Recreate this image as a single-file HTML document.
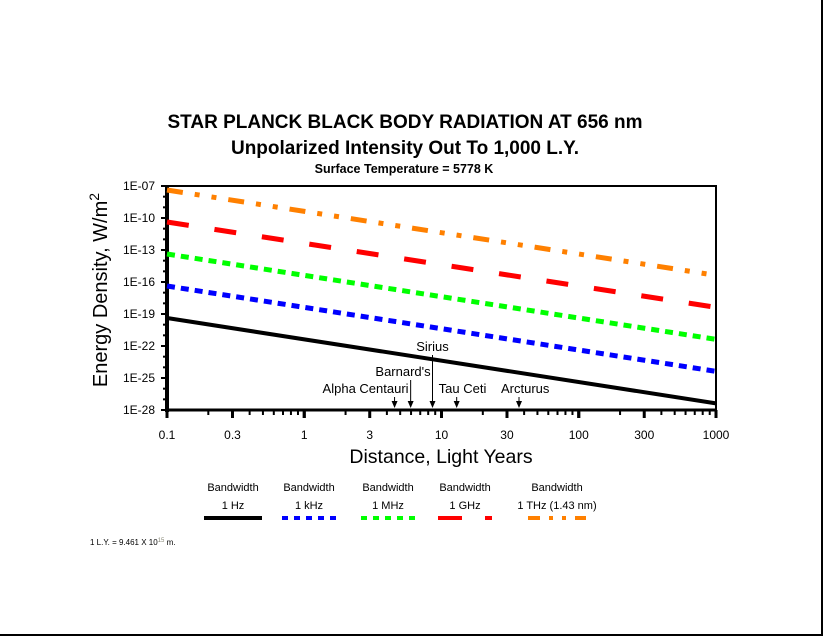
<!DOCTYPE html>
<html><head><meta charset="utf-8"><style>
body{margin:0;background:#fff;}
svg{display:block;font-family:"Liberation Sans",Arial,sans-serif;}
</style></head><body>
<svg id="c" width="825" height="637" xmlns="http://www.w3.org/2000/svg">
<line x1="822" y1="0" x2="822" y2="635" stroke="#000" stroke-width="2"/>
<line x1="0" y1="635" x2="823" y2="635" stroke="#000" stroke-width="2"/>
<text x="405" y="128" font-size="19" font-weight="bold" text-anchor="middle">STAR PLANCK BLACK BODY RADIATION AT 656 nm</text>
<text x="405" y="154" font-size="19" font-weight="bold" text-anchor="middle">Unpolarized Intensity Out To 1,000 L.Y.</text>
<text x="404" y="173" font-size="12.5" font-weight="bold" text-anchor="middle">Surface Temperature = 5778 K</text>
<text transform="translate(107,290) rotate(-90)" font-size="20" text-anchor="middle">Energy Density, W/m<tspan dy="-8" font-size="14">2</tspan></text>
<text x="441" y="463" font-size="19.5" text-anchor="middle">Distance, Light Years</text>
<g id="axes"></g><g id="series"></g><g id="stars"></g><g id="legend"></g>
<text x="90" y="545" font-size="8">1 L.Y. = 9.461 X 10<tspan dy="-3" font-size="6" fill="#887">15</tspan><tspan dy="3"> m.</tspan></text>
</svg>
<script>
const xTickVals=[0.1,0.3,1,3,10,30,100,300,1000];
const xTickLabels=["0.1","0.3","1","3","10","30","100","300","1000"];
const yTickExps=[-7,-10,-13,-16,-19,-22,-25,-28];
const yTickLabels=["1E-07","1E-10","1E-13","1E-16","1E-19","1E-22","1E-25","1E-28"];
const distances=[0.1,1000];
const seriesNames=["1 Hz","1 kHz","1 MHz","1 GHz","1 THz (1.43 nm)"];
const seriesAt01=[4.2e-20,4.2e-17,4.2e-14,4.2e-11,4.2e-8];
const seriesAt1000=[4.2e-28,4.2e-25,4.2e-22,4.2e-19,4.2e-16];
const starNames=["Alpha Centauri","Barnard's","Sirius","Tau Ceti","Arcturus"];
const starDist=[4.55,5.96,8.6,12.9,36.7];
const colors=["#000","#0000ff","#00ff00","#ff0000","#ff8000"];
const dashes=["none","8 6","8 6","22 26","16 12 5 12 5 12"];
const widths=[4,5,5,5,5];
const L=167,R=716,T=186,B=410;
const X=v=>L+(Math.log10(v)+1)/4*(R-L);
const Y=v=>T+(-7-Math.log10(v))/21*(B-T);
const NS="http://www.w3.org/2000/svg";
function mk(tag,attrs,parent,text){const e=document.createElementNS(NS,tag);for(const k in attrs)e.setAttribute(k,attrs[k]);if(text!==undefined)e.textContent=text;parent.appendChild(e);return e;}
const ax=document.getElementById('axes');
let r=mk('rect',{x:L,y:T,width:R-L,height:B-T,fill:'none',stroke:'#000','stroke-width':2},ax);


let l=mk('line',{x1:L,y1:T,x2:L,y2:B+2,stroke:'#000','stroke-width':4},ax);


l=mk('line',{x1:L,y1:B,x2:R,y2:B,stroke:'#000','stroke-width':3},ax);


for(let e=-28;e<=-7;e++){const y=Y(Math.pow(10,e));const major=(e+28)%3===0;
 l=mk('line',{x1:L-(major?6:4),y1:y,x2:L,y2:y,stroke:'#000','stroke-width':2},ax);
 
 }
yTickExps.forEach((e,i)=>{let t=mk('text',{x:L-12,y:Y(Math.pow(10,e))+4,'font-size':12,'text-anchor':'end'},ax,yTickLabels[i]);
 
 });
for(let d=-1;d<3;d++)for(let m=1;m<=10;m++){const v=m*Math.pow(10,d);const major=(m===1||m===3||m===10);
 l=mk('line',{x1:X(v),y1:B,x2:X(v),y2:B+(major?8:5),stroke:'#000','stroke-width':major?3:2},ax);
 
 }
xTickVals.forEach((v,i)=>{let t=mk('text',{x:X(v),y:B+29,'font-size':12,'text-anchor':'middle'},ax,xTickLabels[i]);
 
 });
const sg=document.getElementById('series');
seriesNames.forEach((n,i)=>{let p=mk('line',{x1:X(distances[0]),y1:Y(seriesAt01[i]),x2:X(distances[1]),y2:Y(seriesAt1000[i]),stroke:colors[i],'stroke-width':widths[i],'stroke-dasharray':dashes[i]},sg);
 
 });
const st=document.getElementById('stars');
const labelY=[393,376,351,393,393],anchor=["end","end","middle","start","start"],lx=[14,20,0,-18,-18];
starDist.forEach((d,i)=>{const x=X(d);const top=labelY[i]+4;
 let a=mk('line',{x1:x,y1:top,x2:x,y2:B-4,stroke:'#000','stroke-width':1},st);
 
 
 let h=mk('polygon',{points:`${x-3},${B-9} ${x+3},${B-9} ${x},${B-2}`,fill:'#000'},st);
 
 
 let t=mk('text',{x:x+lx[i],y:labelY[i],'font-size':13,'text-anchor':anchor[i]},st,starNames[i]);
 
 });
const lg=document.getElementById('legend');
const lcx=[233,309,388,465,557];
seriesNames.forEach((n,i)=>{const g=mk('g',{},lg);
 
 
 mk('text',{x:lcx[i],y:491,'font-size':11,'text-anchor':'middle'},g,'Bandwidth');
 mk('text',{x:lcx[i],y:509,'font-size':11,'text-anchor':'middle'},g,n);
 const w=i===4?58:(i===0?58:54);
 mk('line',{x1:lcx[i]-w/2,y1:518,x2:lcx[i]+w/2,y2:518,stroke:colors[i],'stroke-width':4,'stroke-dasharray':dashes[i]==='none'?'none':(i===3?'24 23':(i===4?'12 9 4 9 4 9':'6 6'))},g);});
</script>
</body></html>
